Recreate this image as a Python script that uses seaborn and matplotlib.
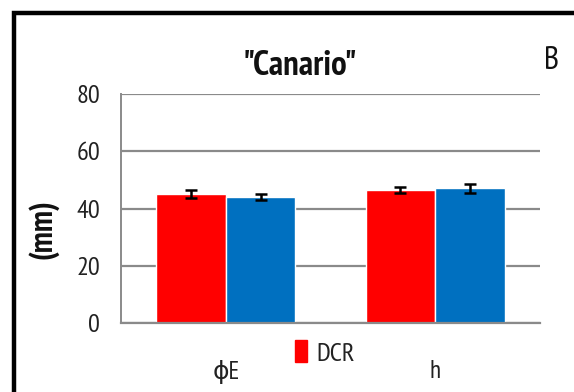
import matplotlib
matplotlib.use("Agg")
import matplotlib.pyplot as plt
import matplotlib.patches as mpatches
import seaborn as sns
import pandas as pd

# Measurements (mm) for the "Canario" cultivar
categories = ["ϕE", "h"]
series = ["DCR", "CR"]
dcr_values = [45.0, 46.5]
cr_values = [44.0, 47.0]
dcr_err = [1.3, 1.0]
cr_err = [1.2, 1.5]
y_ticks = [0, 20, 40, 60, 80]

colors = {"DCR": "#FF0000", "CR": "#0070C0"}

df = pd.DataFrame({
    "param": categories * 2,
    "group": [series[0]] * 2 + [series[1]] * 2,
    "value": dcr_values + cr_values,
    "err": dcr_err + cr_err,
})

sns.set_style("white")
FONTS = ["PT Sans Narrow", "DejaVu Sans"]
plt.rcParams["font.family"] = FONTS

fig = plt.figure(figsize=(5.74, 3.92), dpi=100)
ax = fig.add_axes([121 / 574, 1 - 323 / 392, 419 / 574, 229 / 392])

sns.barplot(data=df, x="param", y="value", hue="group", order=categories,
            hue_order=series, palette=colors, width=0.665, errorbar=None,
            saturation=1, ax=ax, legend=False)

# error bars at the bar centres
for cont, grp in zip(ax.containers, series):
    sub = df[df["group"] == grp].set_index("param").loc[categories]
    xs = [p.get_x() + p.get_width() / 2 for p in cont.patches]
    ax.errorbar(xs, sub["value"], yerr=sub["err"], fmt="none", ecolor="black",
                elinewidth=1.8, capsize=4, capthick=1.8, zorder=5)

ax.set_xlim(-0.5, 1.5)
ax.set_ylim(0, 80)
ax.set_yticks(y_ticks)
ax.set_yticklabels([str(v) for v in y_ticks], fontsize=19, color="#222222")
ax.set_xticks(range(len(categories)))
ax.set_xticklabels(categories, fontsize=18, color="#222222", family=FONTS)
ax.tick_params(axis="x", length=0, pad=27)
ax.tick_params(axis="y", length=0, pad=15)
ax.set_xlabel("")
ax.set_ylabel("")
ax.yaxis.grid(True, color="#8a8a8a", linewidth=1.6)
ax.set_axisbelow(True)
for side in ["top", "right"]:
    ax.spines[side].set_visible(False)
ax.spines["left"].set_color("#8a8a8a")
ax.spines["left"].set_linewidth(1.4)
ax.spines["bottom"].set_color("#8a8a8a")
ax.spines["bottom"].set_linewidth(1.6)

fig.text(300 / 574, 1 - 66 / 392, '"Canario"', fontsize=25, fontweight="semibold",
         ha="center", va="center", color="#111111")
fig.text(552 / 574, 1 - 61 / 392, "B", fontsize=23, ha="center",
         va="center", color="#111111")
fig.text(43 / 574, 1 - 229 / 392, "(mm)", fontsize=23, fontweight="bold",
         rotation=90, ha="center", va="center", color="#111111")

handle = mpatches.Patch(color=colors["DCR"], label="DCR")
fig.legend(handles=[handle], loc="center", bbox_to_anchor=(325 / 574, 1 - 353 / 392),
           frameon=False, fontsize=19, handlelength=0.45, handleheight=0.9,
           handletextpad=0.35, borderpad=0, labelcolor="#222222")

# outer frame
fig.add_artist(mpatches.Rectangle((13.5 / 574, -0.1), 1.2, 1.1 - 13.5 / 392,
                                  transform=fig.transFigure, fill=False,
                                  edgecolor="black", linewidth=3.2))

fig.savefig("out.png", dpi=100)
